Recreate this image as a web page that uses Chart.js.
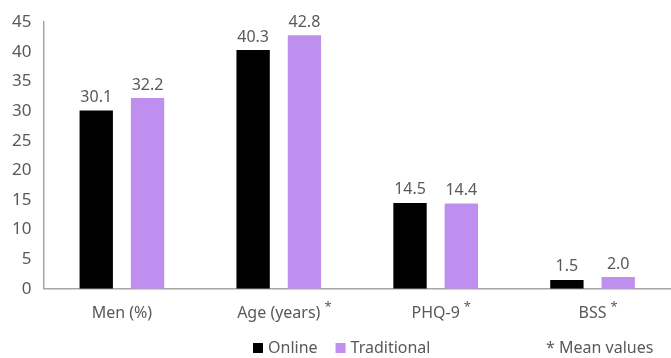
<!DOCTYPE html>
<html>
<head>
<meta charset="utf-8">
<script src="https://cdn.jsdelivr.net/npm/chart.js@4"></script>
<style>
  html, body { margin: 0; padding: 0; background: #fff; }
  #wrap { width: 671px; height: 358px; position: relative; }
</style>
</head>
<body>
<div id="wrap"><canvas id="barChart"></canvas></div>
<script>
const categories = ["Men (%)", "Age (years)", "PHQ-9", "BSS"];
const starred = [false, true, true, true];
const onlineValues = [30.1, 40.3, 14.5, 1.5];
const traditionalValues = [32.2, 42.8, 14.4, 2.0];
const yTicks = [0, 5, 10, 15, 20, 25, 30, 35, 40, 45];

const textColor = "#595959";
const fontFamily = "'Noto Sans', 'Liberation Sans', sans-serif";

// value labels above each bar
const valueLabels = {
  id: "valueLabels",
  afterDatasetsDraw(chart) {
    const ctx = chart.ctx;
    ctx.save();
    ctx.fillStyle = textColor;
    ctx.font = "16px " + fontFamily;
    ctx.textAlign = "center";
    ctx.textBaseline = "bottom";
    chart.data.datasets.forEach((ds, i) => {
      chart.getDatasetMeta(i).data.forEach((bar, j) => {
        ctx.fillText(ds.data[j].toFixed(1), bar.x, bar.y - 5);
      });
    });
    ctx.restore();
  }
};

// asterisks on category labels, legend row and the note
const notes = {
  id: "notes",
  afterDraw(chart) {
    const ctx = chart.ctx;
    const xs = chart.scales.x;
    const tickPad = xs.options.ticks.padding;
    ctx.save();
    ctx.fillStyle = textColor;
    categories.forEach((c, i) => {
      if (!starred[i]) return;
      ctx.font = "16px " + fontFamily;
      const w = ctx.measureText(c).width;
      const x = xs.getPixelForTick(i) + w / 2 + 4;
      ctx.font = "13px " + fontFamily;
      ctx.textAlign = "left";
      ctx.textBaseline = "top";
      ctx.fillText("*", x, xs.top + tickPad - 3);
    });

    // legend
    const ly = chart.height - 10;
    let lx = 253;
    ctx.font = "16px " + fontFamily;
    ctx.textBaseline = "middle";
    ctx.textAlign = "left";
    chart.data.datasets.forEach(ds => {
      ctx.fillStyle = ds.backgroundColor;
      ctx.fillRect(lx, ly - 5, 10, 10);
      ctx.fillStyle = textColor;
      ctx.fillText(ds.label, lx + 15, ly);
      lx += 15 + ctx.measureText(ds.label).width + 18;
    });
    ctx.fillText("* Mean values", 546, ly);
    ctx.restore();
  }
};

new Chart(document.getElementById("barChart").getContext("2d"), {
  type: "bar",
  data: {
    labels: categories,
    datasets: [
      {
        label: "Online",
        data: onlineValues,
        backgroundColor: "#000000",
        barPercentage: 0.65,
        categoryPercentage: 0.654
      },
      {
        label: "Traditional",
        data: traditionalValues,
        backgroundColor: "#bf8ff0",
        barPercentage: 0.65,
        categoryPercentage: 0.654
      }
    ]
  },
  options: {
    responsive: true,
    maintainAspectRatio: false,
    animation: false,
    layout: { padding: { top: 14, right: 0, left: 0, bottom: 20 } },
    plugins: {
      legend: { display: false },
      tooltip: { enabled: false }
    },
    scales: {
      x: {
        grid: { display: false, drawTicks: false },
        border: { color: "#a6a6a6", width: 1.5 },
        ticks: {
          color: textColor,
          font: { size: 16, family: fontFamily },
          padding: 15
        }
      },
      y: {
        min: 0,
        max: 45,
        afterBuildTicks(scale) {
          scale.ticks = yTicks.map(v => ({ value: v }));
        },
        grid: { display: false, drawTicks: false },
        border: { color: "#a6a6a6", width: 1.5 },
        ticks: {
          color: textColor,
          font: { size: 17, family: fontFamily },
          padding: 12
        }
      }
    }
  },
  plugins: [valueLabels, notes]
});
</script>
</body>
</html>
